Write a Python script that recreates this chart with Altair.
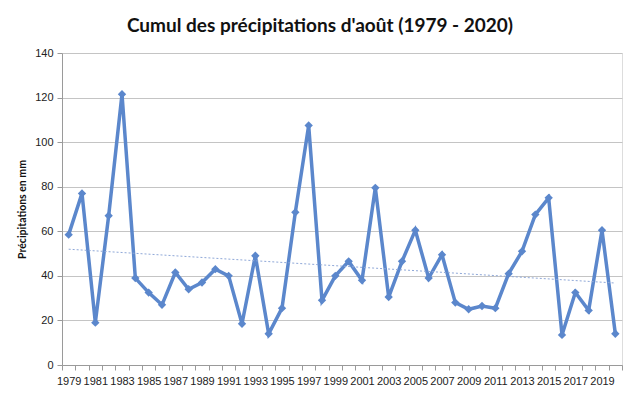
import altair as alt
import pandas as pd

years = list(range(1979, 2021))
precip = [58.5, 77, 19, 67, 121.5, 39, 32.5, 27, 41.5, 34,
          37, 43, 40, 18.5, 49, 14, 25.5, 68.5, 107.5, 29,
          40, 46.5, 38, 79.5, 30.5, 46.5, 60.5, 39, 49.5, 28,
          25, 26.5, 25.5, 41, 51, 67.5, 75, 13.5, 32.5, 24.5,
          60.5, 14]

df = pd.DataFrame({"annee": years, "mm": precip})
df["idx"] = list(range(len(years)))

label_expr = "(+datum.value) % 2 == 1 ? datum.value : ''"

x_enc = alt.X("annee:O", title=None,
              axis=alt.Axis(labelExpr=label_expr, labelAngle=0, tickBand="extent",
                            labelFont="Liberation Sans", labelFontSize=11, labelColor="#222",
                            domainColor="#9a9a9a", tickColor="#9a9a9a", tickSize=5,
                            labelPadding=5, grid=False, labelOverlap=False),
              scale=alt.Scale(paddingInner=0, paddingOuter=0))
y_enc = alt.Y("mm:Q", title="Précipitations en mm",
              scale=alt.Scale(domain=[0, 140], nice=False),
              axis=alt.Axis(values=list(range(0, 141, 20)), titleFont="Lato",
                            titleFontSize=10.5, titleFontWeight="bold", titleColor="#111",
                            titlePadding=7,
                            labelFont="Liberation Sans", labelFontSize=11, labelColor="#222",
                            domainColor="#9a9a9a", tickColor="#9a9a9a", tickSize=5,
                            gridColor="#c4c4c4", gridWidth=1, labelPadding=4))

base = alt.Chart(df)

line = base.mark_line(color="#5b87cc", strokeWidth=3.5).encode(x=x_enc, y=y_enc)
pts = base.mark_point(shape="diamond", filled=True, color="#5b87cc", size=70, opacity=1).encode(x=x_enc, y=y_enc)

trend = base.transform_regression("idx", "mm", extent=[0, 41]).transform_calculate(
    annee="datum.idx + 1979"
).mark_line(color="#8fa8d8", strokeWidth=1, strokeDash=[2, 2]).encode(x="annee:O", y="mm:Q")

chart = alt.layer(line, trend, pts).properties(
    width=560, height=312,
    title=alt.TitleParams("Cumul des précipitations d'août (1979 - 2020)", font="Lato",
                          fontSize=19, fontWeight="bold", color="#111", offset=11, dx=-22),
    padding={"left": 54, "top": 45, "right": 10, "bottom": 23},
    autosize=alt.AutoSizeParams(type="none"),
).configure_view(stroke=None).configure(background="white")

chart.save("out.html", embed_options={"renderer": "svg", "actions": False})
